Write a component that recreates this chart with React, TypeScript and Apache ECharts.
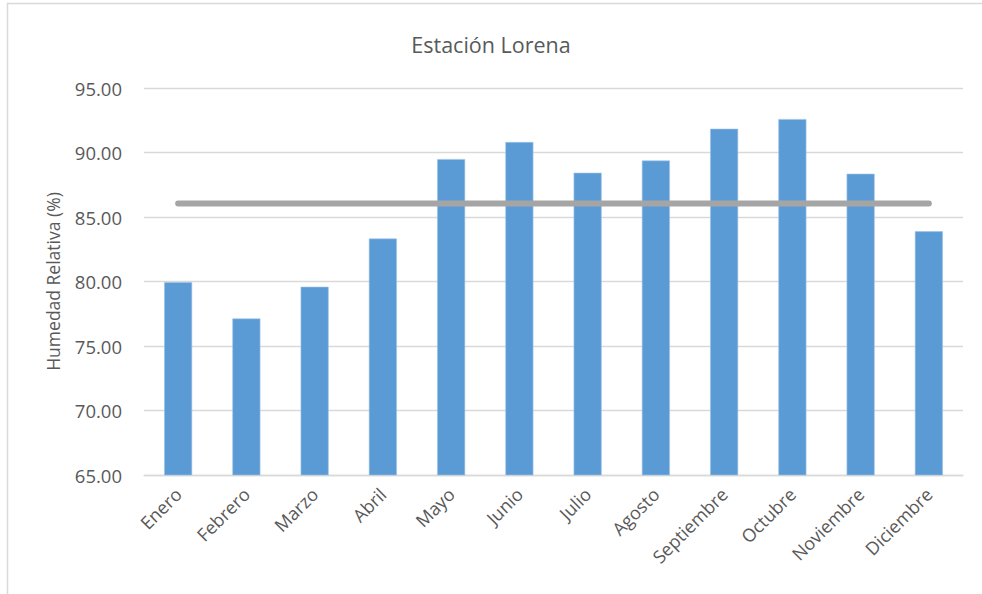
import React, { useEffect, useRef } from "react";
import * as echarts from "echarts";

const categories = ["Enero", "Febrero", "Marzo", "Abril", "Mayo", "Junio", "Julio", "Agosto", "Septiembre", "Octubre", "Noviembre", "Diciembre"];
const humedad = [79.95, 77.13, 79.59, 83.33, 89.49, 90.81, 88.43, 89.38, 91.84, 92.59, 88.35, 83.89];
const promedio = [86.04, 86.04, 86.04, 86.04, 86.04, 86.04, 86.04, 86.04, 86.04, 86.04, 86.04, 86.04];
const titleText = "Estación Lorena";
const yAxisName = "Humedad Relativa (%)";

const FONT = "'Open Sans', sans-serif";

export default function App() {
  const ref = useRef<HTMLDivElement>(null);
  useEffect(() => {
    if (!ref.current) return;
    const chart = echarts.init(ref.current, null, { renderer: "svg" });
    chart.setOption({
      animation: false,
      backgroundColor: "#ffffff",
      textStyle: { fontFamily: FONT },
      title: {
        text: titleText,
        left: "center",
        top: 28,
        textStyle: { fontFamily: FONT, fontSize: 21.5, fontWeight: "normal", color: "#595959" },
      },
      graphic: [
        {
          type: "rect",
          shape: { x: 7.5, y: 3.5, width: 1100, height: 1100 },
          style: { fill: "none", stroke: "#D9D9D9", lineWidth: 1.5 },
          silent: true,
        },
      ],
      grid: { left: 144, right: 19, top: 88, bottom: 119, containLabel: false },
      xAxis: {
        type: "category",
        data: categories,
        axisTick: { show: false },
        axisLine: { show: true, lineStyle: { color: "#D9D9D9", width: 1.3 } },
        axisLabel: { rotate: 45, fontFamily: FONT, fontSize: 18, color: "#595959", margin: 16 },
      },
      yAxis: {
        type: "value",
        min: 65,
        max: 95,
        interval: 5,
        name: yAxisName,
        nameLocation: "middle",
        nameGap: 82,
        nameTextStyle: { fontFamily: FONT, fontSize: 17.5, color: "#595959" },
        axisLine: { show: false },
        axisTick: { show: false },
        axisLabel: { fontFamily: FONT, fontSize: 18.5, color: "#595959", margin: 22, formatter: (v: number) => v.toFixed(2) },
        splitLine: { lineStyle: { color: "#D9D9D9", width: 1.3 } },
      },
      series: [
        {
          type: "bar",
          data: humedad,
          barWidth: 28,
          itemStyle: { color: "#5B9BD5", borderColor: "#9DC3E6", borderWidth: 0.6 },
          z: 2,
        },
        {
          type: "line",
          data: promedio,
          symbol: "none",
          lineStyle: { color: "#A5A5A5", width: 6, cap: "round" },
          z: 3,
        },
      ],
    });
    return () => chart.dispose();
  }, []);
  return <div ref={ref} style={{ position: "fixed", left: 0, top: 0, width: 982, height: 594 }} />;
}
